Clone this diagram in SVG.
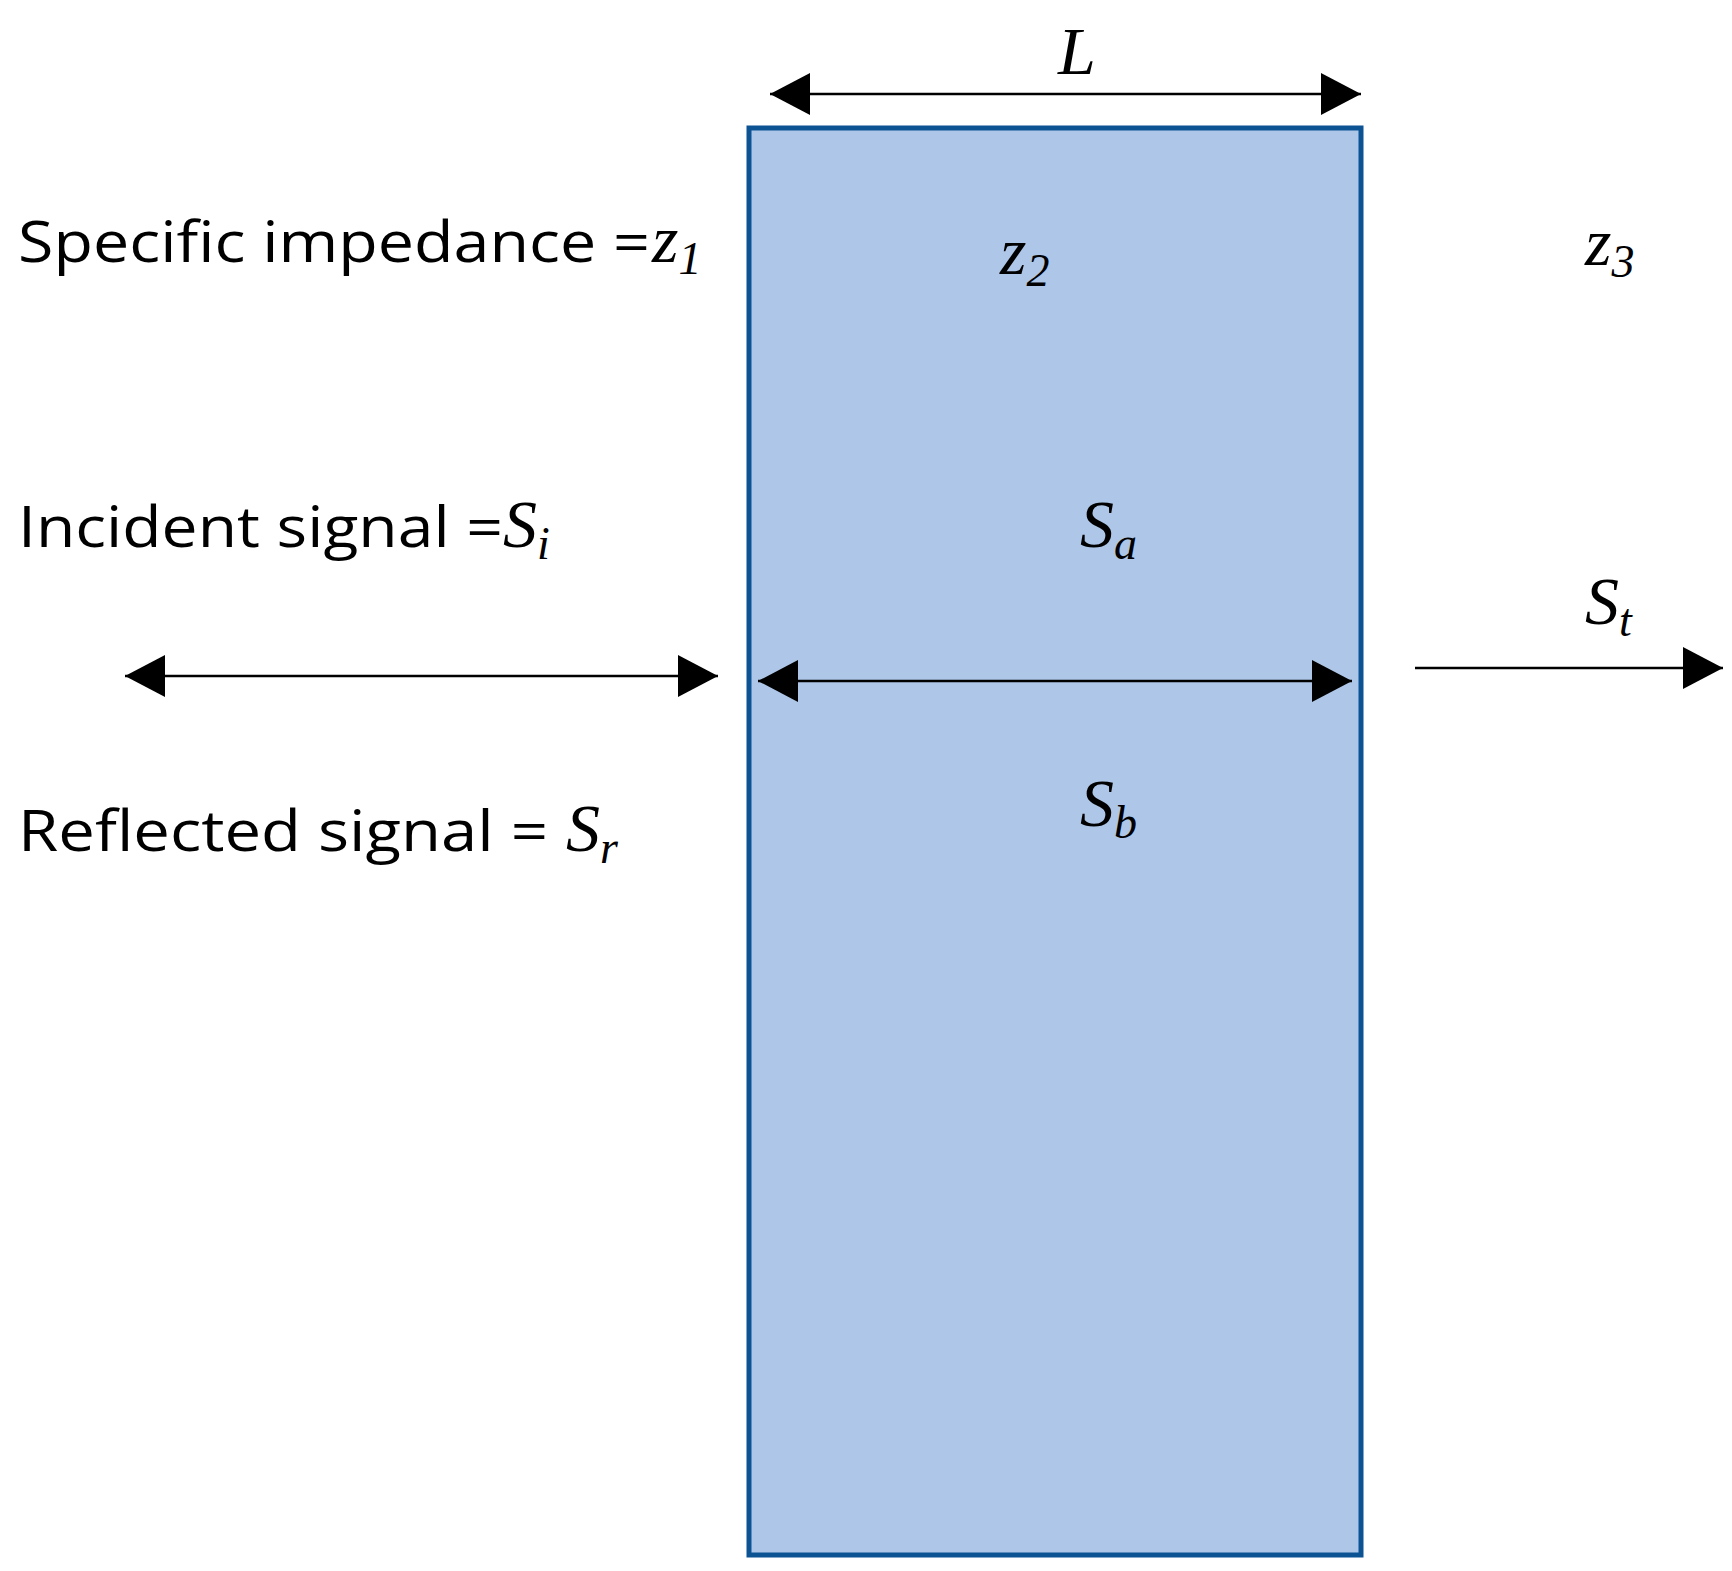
<svg xmlns="http://www.w3.org/2000/svg" width="1732" height="1571" viewBox="0 0 1732 1571">
<style>
.t{font-family:"Open Sans","Liberation Sans",sans-serif;font-size:56px;fill:#000}
.m{font-family:"Liberation Serif",serif;font-style:italic;font-size:68px;fill:#000}
.s{font-size:46px}
.c{stroke:#000;stroke-width:2.5;fill:none}
</style>
<defs>
<marker id="ah" markerWidth="40" markerHeight="42" refX="40" refY="21" orient="auto-start-reverse" markerUnits="userSpaceOnUse"><path d="M0,0 L40,21 L0,42 Z" fill="#000"/></marker>
</defs>
<rect width="1732" height="1571" fill="#fff"/>
<g id="slab"><rect x="749" y="128" width="612" height="1427" fill="#aec7e8" stroke="#0c5394" stroke-width="5"/></g>
<g id="connectors">
<line class="c" x1="770" y1="94" x2="1361" y2="94" marker-start="url(#ah)" marker-end="url(#ah)"/>
<line class="c" x1="125" y1="676" x2="718" y2="676" marker-start="url(#ah)" marker-end="url(#ah)"/>
<line class="c" x1="758" y1="681" x2="1352" y2="681" marker-start="url(#ah)" marker-end="url(#ah)"/>
<line class="c" x1="1415" y1="668" x2="1723" y2="668" marker-end="url(#ah)"/>
</g>
<g id="labels">
<text class="m" x="1058" y="74">L</text>
<text class="t" x="18" y="262" textLength="632" lengthAdjust="spacingAndGlyphs">Specific impedance =</text>
<text class="m" x="652" y="262">z<tspan class="s" dy="12">1</tspan></text>
<text class="m" x="1000" y="274">z<tspan class="s" dy="12">2</tspan></text>
<text class="m" x="1585" y="265">z<tspan class="s" dy="12">3</tspan></text>
<text class="t" x="18" y="547" textLength="485" lengthAdjust="spacingAndGlyphs">Incident signal =</text>
<text class="m" x="503" y="547">S<tspan class="s" dy="12">i</tspan></text>
<text class="m" x="1080" y="547">S<tspan class="s" dy="12">a</tspan></text>
<text class="m" x="1585" y="624">S<tspan class="s" dy="12">t</tspan></text>
<text class="t" x="18" y="851" textLength="530" lengthAdjust="spacingAndGlyphs">Reflected signal =</text>
<text class="m" x="566" y="851">S<tspan class="s" dy="12">r</tspan></text>
<text class="m" x="1080" y="826">S<tspan class="s" dy="12">b</tspan></text>
</g>
</svg>
